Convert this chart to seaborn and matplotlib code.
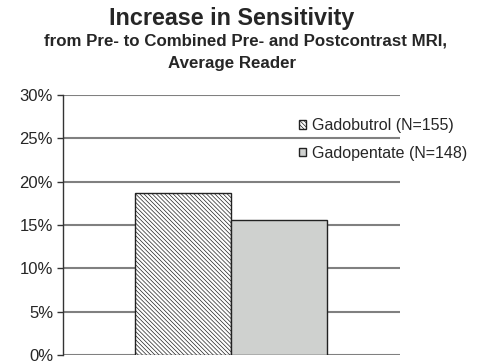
import seaborn as sns
import pandas as pd
import matplotlib.pyplot as plt

# values
groups = ["Gadobutrol (N=155)", "Gadopentate (N=148)"]
increase = [18.7, 15.6]  # percent
ytick_vals = [0, 5, 10, 15, 20, 25, 30]
ytick_labels = ["0%", "5%", "10%", "15%", "20%", "25%", "30%"]

df = pd.DataFrame({"cat": ["Average Reader"] * 2, "group": groups, "increase": increase})

sns.set_style("white")
plt.rcParams['font.family'] = ['Liberation Sans', 'DejaVu Sans']
plt.rcParams['hatch.linewidth'] = 0.5
plt.rcParams['hatch.color'] = '#ababab'

fig = plt.figure(figsize=(4.83, 3.64), dpi=100)
ax = fig.add_axes([0.130, 0.0247, 0.698, 0.714])

sns.barplot(data=df, x="cat", y="increase", hue="group", width=0.57,
            palette=["white", "#cfd1cf"], edgecolor="#222222", linewidth=1.0,
            saturation=1, legend=False, ax=ax, zorder=3)
ax.containers[0][0].set_hatch("\\" * 8)

ax.set_xlim(-0.5, 0.5)
ax.set_ylim(0, 30)
ax.set_yticks(ytick_vals)
ax.set_yticklabels(ytick_labels, fontsize=12)
ax.set_xticks([])
ax.set_xlabel("")
ax.set_ylabel("")
ax.yaxis.grid(True, color="#808080", linewidth=1.5, zorder=0)
ax.set_axisbelow(True)
for s in ["top", "right", "bottom"]:
    ax.spines[s].set_visible(False)
ax.spines["left"].set_color("#333333")
ax.spines["left"].set_linewidth(1.0)
ax.tick_params(axis="y", left=True, length=4, width=1, color="#333333", pad=3)

handles = [c[0] for c in ax.containers]
fig.legend(handles, groups, loc="upper left", bbox_to_anchor=(0.602, 0.698),
           frameon=False, fontsize=11.5, handlelength=0.45, handleheight=0.45,
           handletextpad=0.4, labelspacing=0.8, borderpad=0)

cx = 0.48
fig.text(cx, 1 - 25 / 364, "Increase in Sensitivity", ha="center", va="baseline",
         fontsize=16.8, fontweight="bold")
fig.text(0.509, 1 - 46 / 364, "from Pre- to Combined Pre- and Postcontrast MRI,",
         ha="center", va="baseline", fontsize=12.2, fontweight="bold")
fig.text(cx, 1 - 68 / 364, "Average Reader", ha="center", va="baseline",
         fontsize=12.2, fontweight="bold")

fig.savefig("out.png", dpi=100)
